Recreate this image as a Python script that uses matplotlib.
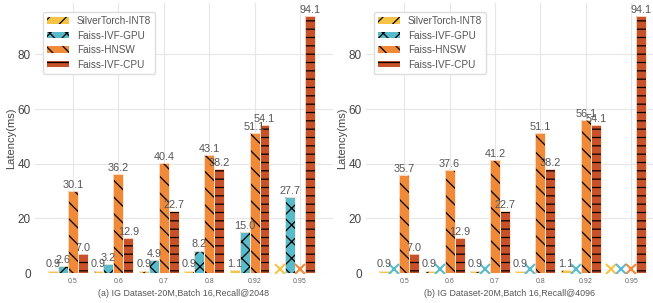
import numpy as np
import matplotlib
matplotlib.use("Agg")
import matplotlib.pyplot as plt

recall_labels = ["0.5", "0.6", "0.7", "0.8", "0.92", "0.95"]
series_names = ["SilverTorch-INT8", "Faiss-IVF-GPU", "Faiss-HNSW", "Faiss-IVF-CPU"]

# left panel: Recall@2048
a_silver = [0.9, 0.9, 0.9, 0.9, 1.1, None]
a_gpu = [2.6, 3.2, 4.9, 8.2, 15.0, 27.7]
a_hnsw = [30.1, 36.2, 40.4, 43.1, 51.1, None]
a_cpu = [7.0, 12.9, 22.7, 38.2, 54.1, 94.1]

# right panel: Recall@4096
b_silver = [0.9, 0.9, 0.9, 0.9, 1.1, None]
b_gpu = [None, None, None, None, None, None]
b_hnsw = [35.7, 37.6, 41.2, 51.1, 56.1, None]
b_cpu = [7.0, 12.9, 22.7, 38.2, 54.1, 94.1]

titles = ["(a) IG Dataset-20M,Batch 16,Recall@2048",
          "(b) IG Dataset-20M,Batch 16,Recall@4096"]

colors = ["#F6C445", "#58BBCB", "#F08A39", "#C9512A"]
hatches = ["//", "xx", "\\\\", "--"]

plt.rcParams["hatch.linewidth"] = 0.9
plt.rcParams["font.family"] = ["Liberation Sans", "DejaVu Sans"]

fig = plt.figure(figsize=(6.53, 3.03), dpi=100)
ax1 = fig.add_axes([35 / 653, 30 / 303, 298 / 653, 270 / 303])
ax2 = fig.add_axes([366 / 653, 30 / 303, 287 / 653, 270 / 303])

w = 0.22
txt_color = "#555555"

def draw(ax, data, title, xmax):
    x = np.arange(len(recall_labels))
    ax.set_facecolor("white")
    ax.set_axisbelow(True)
    ax.grid(True, color="#E6E6E6", linewidth=0.8)
    for k, vals in enumerate(data):
        pos = x + (k - 2) * w
        for xi, v in zip(pos, vals):
            if v is None:
                ax.plot([xi], [1.6], marker="x", color=colors[k], markersize=7,
                        markeredgewidth=1.5, linestyle="none", zorder=3)
            else:
                ax.bar(xi, v, width=w, color=colors[k], hatch=hatches[k],
                       edgecolor="black", linewidth=0, zorder=2)
                ax.bar(xi, v, width=w, color="none", edgecolor="#FFE9D6",
                       linewidth=0.6, zorder=2.5)
                ax.text(xi, v + 0.4, f"{v:.1f}", ha="center", va="bottom",
                        fontsize=7.8, color=txt_color, zorder=4)
    handles = [plt.Rectangle((0, 0), 1, 1, facecolor=colors[k], hatch=hatches[k],
                             edgecolor="black", linewidth=0) for k in range(4)]
    ax.legend(handles, series_names, loc="upper left", fontsize=7.2,
              frameon=True, framealpha=1, edgecolor="#DDDDDD",
              bbox_to_anchor=(0.01, 0.985), handlelength=2.2, handleheight=0.6,
              labelspacing=0.45, borderpad=0.4, labelcolor=txt_color)
    ax.set_xticks(x)
    ax.set_xticklabels(recall_labels, fontsize=5, color="#666666")
    ax.set_yticks([0, 20, 40, 60, 80])
    ax.tick_params(axis="y", labelsize=8.5, colors="#444444", length=0, pad=3)
    ax.tick_params(axis="x", length=0, pad=3.5)
    ax.set_xlim(-0.84, xmax)
    ax.set_ylim(0, 98.8)
    ax.set_ylabel("Latency(ms)", fontsize=8, color="#444444", labelpad=1)
    ax.set_xlabel(title, fontsize=6.4, color="#555555", labelpad=3)
    for s in ax.spines.values():
        s.set_visible(False)

draw(ax1, [a_silver, a_gpu, a_hnsw, a_cpu], titles[0], 5.73)
draw(ax2, [b_silver, b_gpu, b_hnsw, b_cpu], titles[1], 5.48)

fig.savefig("out.png", dpi=100)
